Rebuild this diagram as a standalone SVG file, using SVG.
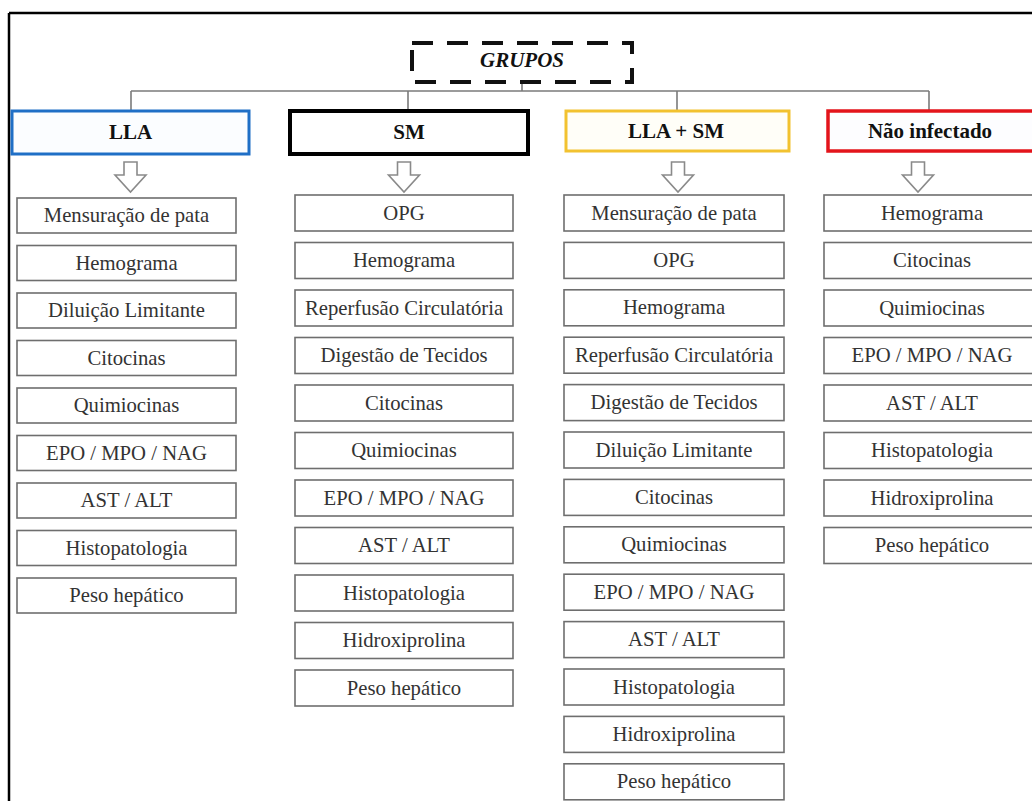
<svg xmlns="http://www.w3.org/2000/svg" width="1032" height="801" viewBox="0 0 1032 801">
<defs>
<style>
.it{fill:#fff;stroke:#6e6e6e;stroke-width:1.6}
.tx{font-family:"Liberation Serif","Times New Roman",serif;font-size:20.7px;fill:#333;text-anchor:middle}
.hd{font-family:"Liberation Serif","Times New Roman",serif;font-size:21px;font-weight:bold;fill:#111;text-anchor:middle}
.ar{fill:#fff;stroke:#8a8a8a;stroke-width:1.6;stroke-linejoin:miter}
.cn{stroke:#7a7a7a;stroke-width:1.6;fill:none}
</style>
</defs>
<rect x="0" y="0" width="1032" height="801" fill="#fff"/>
<g id="frame">
<line x1="9" y1="13" x2="1032" y2="13" stroke="#000" stroke-width="2.5"/>
<line x1="9" y1="13" x2="9" y2="801" stroke="#000" stroke-width="2.5"/>
</g>
<g id="connectors">
<line class="cn" x1="522" y1="82" x2="522" y2="91"/>
<line class="cn" x1="131" y1="91" x2="929" y2="91"/>
<line class="cn" x1="131" y1="91" x2="131" y2="111"/>
<line class="cn" x1="408" y1="91" x2="408" y2="111"/>
<line class="cn" x1="677" y1="91" x2="677" y2="111"/>
<line class="cn" x1="929" y1="91" x2="929" y2="111"/>
<polygon class="ar" points="124,162 137,162 137,175 146,175 130.5,192 115,175 124,175"/>
<polygon class="ar" points="397.5,162 410.5,162 410.5,175 419.5,175 404,192 388.5,175 397.5,175"/>
<polygon class="ar" points="671.5,162 684.5,162 684.5,175 693.5,175 678,192 662.5,175 671.5,175"/>
<polygon class="ar" points="911.5,162 924.5,162 924.5,175 933.5,175 918,192 902.5,175 911.5,175"/>
</g>
<g id="grupos">
<rect x="412" y="43" width="220" height="39" fill="#fff" stroke="#111" stroke-width="4" stroke-dasharray="21 14"/>
<text class="hd" x="522" y="67" font-style="italic">GRUPOS</text>
</g>
<g id="lla">
<rect x="12" y="111" width="237" height="43" fill="#fbfdff" stroke="#1f6fc6" stroke-width="3"/>
<text class="hd" x="130.5" y="139">LLA</text>
</g>
<g id="sm">
<rect x="290" y="111" width="238" height="43" fill="#fff" stroke="#000" stroke-width="4"/>
<text class="hd" x="409" y="139">SM</text>
</g>
<g id="llasm">
<rect x="566" y="111" width="223" height="40" fill="#fffef8" stroke="#f2c230" stroke-width="3"/>
<text class="hd" x="676" y="138">LLA + SM</text>
</g>
<g id="naoinfectado">
<rect x="828" y="111" width="212" height="40" fill="#fdfdff" stroke="#e3141b" stroke-width="3.5"/>
<text class="hd" x="930" y="138">Não infectado</text>
</g>
<g id="col-lla">
<rect class="it" x="17" y="198" width="219" height="35"/><text class="tx" x="126.5" y="222">Mensuração de pata</text>
<rect class="it" x="17" y="245.5" width="219" height="35"/><text class="tx" x="126.5" y="269.5">Hemograma</text>
<rect class="it" x="17" y="293" width="219" height="35"/><text class="tx" x="126.5" y="317">Diluição Limitante</text>
<rect class="it" x="17" y="340.5" width="219" height="35"/><text class="tx" x="126.5" y="364.5">Citocinas</text>
<rect class="it" x="17" y="388" width="219" height="35"/><text class="tx" x="126.5" y="412">Quimiocinas</text>
<rect class="it" x="17" y="435.5" width="219" height="35"/><text class="tx" x="126.5" y="459.5">EPO / MPO / NAG</text>
<rect class="it" x="17" y="483" width="219" height="35"/><text class="tx" x="126.5" y="507">AST / ALT</text>
<rect class="it" x="17" y="530.5" width="219" height="35"/><text class="tx" x="126.5" y="554.5">Histopatologia</text>
<rect class="it" x="17" y="578" width="219" height="35"/><text class="tx" x="126.5" y="602">Peso hepático</text>
</g>
<g id="col-sm">
<rect class="it" x="295" y="195" width="218" height="36"/><text class="tx" x="404" y="219.5">OPG</text>
<rect class="it" x="295" y="242.5" width="218" height="36"/><text class="tx" x="404" y="267">Hemograma</text>
<rect class="it" x="295" y="290" width="218" height="36"/><text class="tx" x="404" y="314.5">Reperfusão Circulatória</text>
<rect class="it" x="295" y="337.5" width="218" height="36"/><text class="tx" x="404" y="362">Digestão de Tecidos</text>
<rect class="it" x="295" y="385" width="218" height="36"/><text class="tx" x="404" y="409.5">Citocinas</text>
<rect class="it" x="295" y="432.5" width="218" height="36"/><text class="tx" x="404" y="457">Quimiocinas</text>
<rect class="it" x="295" y="480" width="218" height="36"/><text class="tx" x="404" y="504.5">EPO / MPO / NAG</text>
<rect class="it" x="295" y="527.5" width="218" height="36"/><text class="tx" x="404" y="552">AST / ALT</text>
<rect class="it" x="295" y="575" width="218" height="36"/><text class="tx" x="404" y="599.5">Histopatologia</text>
<rect class="it" x="295" y="622.5" width="218" height="36"/><text class="tx" x="404" y="647">Hidroxiprolina</text>
<rect class="it" x="295" y="670" width="218" height="36"/><text class="tx" x="404" y="694.5">Peso hepático</text>
</g>
<g id="col-llasm">
<rect class="it" x="564" y="195" width="220" height="36"/><text class="tx" x="674" y="219.5">Mensuração de pata</text>
<rect class="it" x="564" y="242.4" width="220" height="36"/><text class="tx" x="674" y="266.9">OPG</text>
<rect class="it" x="564" y="289.8" width="220" height="36"/><text class="tx" x="674" y="314.3">Hemograma</text>
<rect class="it" x="564" y="337.2" width="220" height="36"/><text class="tx" x="674" y="361.7">Reperfusão Circulatória</text>
<rect class="it" x="564" y="384.6" width="220" height="36"/><text class="tx" x="674" y="409.1">Digestão de Tecidos</text>
<rect class="it" x="564" y="432" width="220" height="36"/><text class="tx" x="674" y="456.5">Diluição Limitante</text>
<rect class="it" x="564" y="479.4" width="220" height="36"/><text class="tx" x="674" y="503.9">Citocinas</text>
<rect class="it" x="564" y="526.8" width="220" height="36"/><text class="tx" x="674" y="551.3">Quimiocinas</text>
<rect class="it" x="564" y="574.2" width="220" height="36"/><text class="tx" x="674" y="598.7">EPO / MPO / NAG</text>
<rect class="it" x="564" y="621.6" width="220" height="36"/><text class="tx" x="674" y="646.1">AST / ALT</text>
<rect class="it" x="564" y="669" width="220" height="36"/><text class="tx" x="674" y="693.5">Histopatologia</text>
<rect class="it" x="564" y="716.4" width="220" height="36"/><text class="tx" x="674" y="740.9">Hidroxiprolina</text>
<rect class="it" x="564" y="763.8" width="220" height="36"/><text class="tx" x="674" y="788.3">Peso hepático</text>
</g>
<g id="col-nao">
<rect class="it" x="824" y="195" width="216" height="36"/><text class="tx" x="932" y="219.5">Hemograma</text>
<rect class="it" x="824" y="242.5" width="216" height="36"/><text class="tx" x="932" y="267">Citocinas</text>
<rect class="it" x="824" y="290" width="216" height="36"/><text class="tx" x="932" y="314.5">Quimiocinas</text>
<rect class="it" x="824" y="337.5" width="216" height="36"/><text class="tx" x="932" y="362">EPO / MPO / NAG</text>
<rect class="it" x="824" y="385" width="216" height="36"/><text class="tx" x="932" y="409.5">AST / ALT</text>
<rect class="it" x="824" y="432.5" width="216" height="36"/><text class="tx" x="932" y="457">Histopatologia</text>
<rect class="it" x="824" y="480" width="216" height="36"/><text class="tx" x="932" y="504.5">Hidroxiprolina</text>
<rect class="it" x="824" y="527.5" width="216" height="36"/><text class="tx" x="932" y="552">Peso hepático</text>
</g>
</svg>
